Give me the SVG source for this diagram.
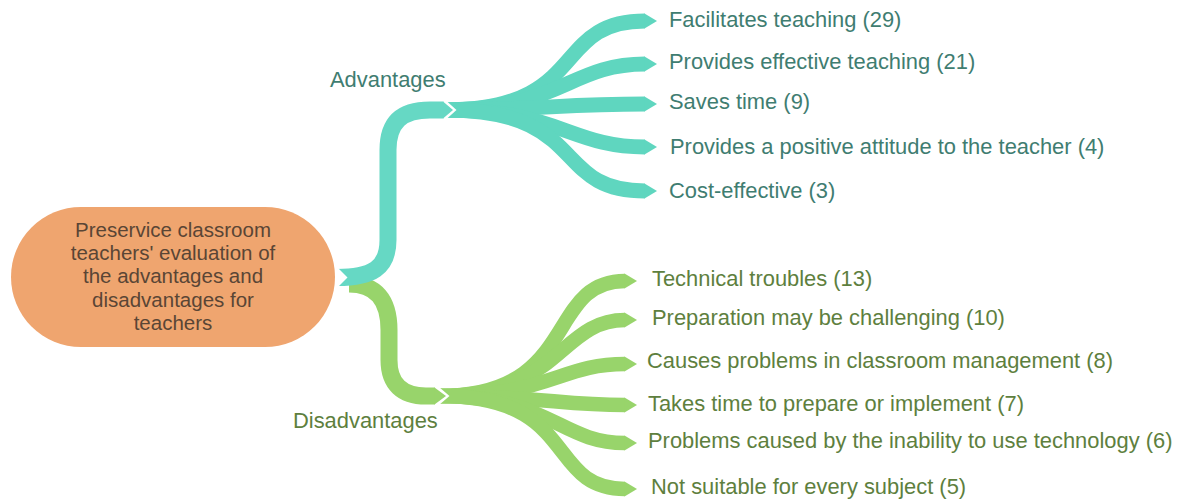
<svg xmlns="http://www.w3.org/2000/svg" width="1178" height="499" viewBox="0 0 1178 499">
<style>
  .lbl { font-family: "Liberation Sans", Arial, sans-serif; font-size: 21.9px; }
  .adv { fill: #3f7d71; }
  .dis { fill: #5e7f3e; }
  .ctr { font-family: "Liberation Sans", Arial, sans-serif; font-size: 20.5px; fill: #5a4535; text-anchor: middle; }
  .tb { fill: none; stroke: #5fd6bf; stroke-width: 15; marker-end: url(#tipT); }
  .gb { fill: none; stroke: #98d46b; stroke-width: 14.5; marker-end: url(#tipG); }
</style>
<defs>
  <marker id="tipT" markerUnits="userSpaceOnUse" viewBox="-1 -8 14 16" refX="0" refY="0" markerWidth="14" markerHeight="16" orient="auto">
    <path d="M-0.5,-7.5 L12,0 L-0.5,7.5 Z" fill="#5fd6bf"/>
  </marker>
  <marker id="tipG" markerUnits="userSpaceOnUse" viewBox="-1 -8 14 16" refX="0" refY="0" markerWidth="14" markerHeight="16" orient="auto">
    <path d="M-0.5,-7.5 L12,0 L-0.5,7.5 Z" fill="#98d46b"/>
  </marker>
</defs>

<g id="connectors">
  <path class="tb" d="M445,110 C590,110 550,21 645,21"/>
  <path class="tb" d="M445,110 C560,110 570,64 645,64"/>
  <path class="tb" d="M445,110 C540,110 560,104 645,104"/>
  <path class="tb" d="M445,110 C560,110 570,147 645,147"/>
  <path class="tb" d="M445,110 C590,110 550,191 645,191"/>
  <polygon points="430,101 446.5,101 456.5,110 446.5,119 430,119" fill="#ffffff"/>
  <path class="gb" d="M440,396 C580,396 545,281 625,281"/>
  <path class="gb" d="M440,396 C560,396 560,320 625,320"/>
  <path class="gb" d="M440,396 C550,396 560,364 625,364"/>
  <path class="gb" d="M440,396 C540,396 560,405 625,405"/>
  <path class="gb" d="M440,396 C550,396 560,443 625,443"/>
  <path class="gb" d="M440,396 C580,396 545,489 625,489"/>
  <polygon points="425,387 439,387 449.5,396 439,405 425,405" fill="#ffffff"/>
  <path d="M349,284 C376,284 389,300 389,330 L389,360 C389,384 402,396 426,396 L435,396" fill="none" stroke="#98d46b" stroke-width="17"/>
  <polygon points="434.5,387.5 446,396 434.5,404.5" fill="#98d46b"/>
  <path d="M337,277.5 C372,277.5 388,268 388,240 L388,150 C388,122 402,110 430,110 L443.5,110" fill="none" stroke="#66d8c4" stroke-width="17"/>
  <polygon points="443,101.5 453,110 443,118.5" fill="#66d8c4"/>
  <polygon points="336,266 347.5,277.5 336,289" fill="#ffffff"/>
</g>

<g id="center">
  <rect x="11" y="207" width="324" height="140" rx="70" ry="70" fill="#efa56f"/>
  <text class="ctr" x="173" y="237">Preservice classroom</text>
  <text class="ctr" x="173" y="260">teachers' evaluation of</text>
  <text class="ctr" x="173" y="283.3">the advantages and</text>
  <text class="ctr" x="173" y="306.6">disadvantages for</text>
  <text class="ctr" x="173" y="329.5">teachers</text>
</g>

<g id="advantages"><text class="lbl adv" x="330" y="87">Advantages</text></g>
<g id="disadvantages"><text class="lbl dis" x="293" y="428">Disadvantages</text></g>

<g id="adv-1"><text class="lbl adv" x="669" y="27">Facilitates teaching (29)</text></g>
<g id="adv-2"><text class="lbl adv" x="669" y="68.5">Provides effective teaching (21)</text></g>
<g id="adv-3"><text class="lbl adv" x="669" y="108.5">Saves time (9)</text></g>
<g id="adv-4"><text class="lbl adv" x="670" y="154">Provides a positive attitude to the teacher (4)</text></g>
<g id="adv-5"><text class="lbl adv" x="669" y="198">Cost-effective (3)</text></g>

<g id="dis-1"><text class="lbl dis" x="652" y="286">Technical troubles (13)</text></g>
<g id="dis-2"><text class="lbl dis" x="652" y="325">Preparation may be challenging (10)</text></g>
<g id="dis-3"><text class="lbl dis" x="647" y="368">Causes problems in classroom management (8)</text></g>
<g id="dis-4"><text class="lbl dis" x="648" y="411">Takes time to prepare or implement (7)</text></g>
<g id="dis-5"><text class="lbl dis" x="648" y="448">Problems caused by the inability to use technology (6)</text></g>
<g id="dis-6"><text class="lbl dis" x="651" y="494">Not suitable for every subject (5)</text></g>
</svg>
